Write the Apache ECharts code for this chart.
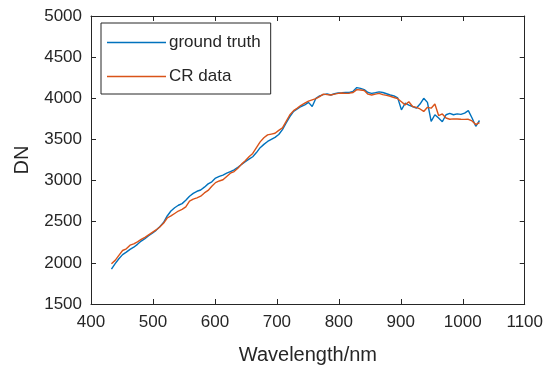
<!DOCTYPE html>
<html><head><meta charset="utf-8">
<script src="https://cdn.jsdelivr.net/npm/echarts@6/dist/echarts.min.js"></script>
<style>html,body{margin:0;padding:0;background:#fff}#c{width:546px;height:371px}</style>
</head><body><div id="c"></div>
<script>
const wavelength = [433,439,445,451,457,463,469,475,481,487,493,499,505,511,517,523,529,535,541,547,553,559,565,571,577,583,589,595,601,607,613,619,625,631,637,643,649,655,661,667,673,679,685,691,697,703,709,715,721,727,733,739,745,751,757,763,769,775,781,787,793,799,805,811,817,823,829,835,841,847,853,859,865,871,877,883,889,895,901,907,913,919,925,931,937,943,949,955,961,967,973,979,985,991,997,1003,1009,1015,1021,1027];
const groundTruth = [1925,1990,2050,2100,2130,2164,2190,2225,2265,2295,2330,2360,2395,2440,2490,2570,2630,2670,2700,2720,2760,2810,2845,2870,2885,2920,2960,2985,3030,3050,3067,3090,3110,3130,3160,3195,3230,3260,3290,3340,3400,3440,3475,3500,3525,3560,3620,3700,3776,3840,3870,3900,3920,3950,3900,4000,4030,4045,4052,4040,4055,4065,4068,4072,4070,4085,4130,4120,4105,4070,4060,4068,4078,4070,4055,4040,4030,4005,3860,3940,3918,3900,3880,3930,4000,3950,3720,3800,3760,3715,3800,3817,3800,3810,3805,3820,3850,3760,3660,3730];
const crData = [1990,2030,2090,2150,2170,2215,2230,2255,2285,2310,2340,2370,2400,2435,2480,2545,2570,2600,2630,2650,2680,2750,2775,2790,2810,2850,2880,2930,2975,2995,3010,3050,3090,3110,3150,3200,3240,3290,3330,3400,3470,3520,3555,3565,3575,3610,3640,3720,3800,3850,3880,3915,3940,3965,3980,3995,4020,4050,4045,4040,4050,4060,4065,4060,4062,4070,4105,4100,4095,4050,4040,4050,4060,4045,4035,4025,4010,3995,3958,3920,3958,3900,3890,3870,3840,3890,3880,3930,3790,3810,3760,3745,3750,3748,3745,3744,3745,3725,3680,3705];
const xTicks = [400,500,600,700,800,900,1000,1100];
const yTicks = [1500,2000,2500,3000,3500,4000,4500,5000];
const seriesNames = ['ground truth','CR data'];

const font = 'Liberation Sans, Arial, Helvetica, sans-serif';
const axisColor = '#262626';
const pair = (xs, ys) => xs.map((x, i) => [x, ys[i]]);
const chart = echarts.init(document.getElementById('c'), null, {renderer: 'canvas'});
const baseX = {type: 'value', min: xTicks[0], max: xTicks[xTicks.length-1], interval: 100,
  splitLine: {show: false}, axisLine: {lineStyle: {color: axisColor, width: 1}},
  axisTick: {inside: true, length: 5, lineStyle: {color: axisColor}}};
const baseY = {type: 'value', min: yTicks[0], max: yTicks[yTicks.length-1], interval: 500,
  splitLine: {show: false}, axisLine: {lineStyle: {color: axisColor, width: 1}},
  axisTick: {inside: true, length: 5, lineStyle: {color: axisColor}}};
const plain = v => String(v);
chart.setOption({
  animation: false,
  textStyle: {fontFamily: font},
  grid: {left: 91, right: 21, top: 16, bottom: 67, containLabel: false},
  xAxis: [
    Object.assign({}, baseX, {position: 'bottom', name: 'Wavelength/nm', nameLocation: 'middle', nameGap: 41,
      nameTextStyle: {fontSize: 20, color: axisColor, fontFamily: font},
      axisLabel: {fontSize: 17, color: axisColor, margin: 10, fontFamily: font, formatter: plain}}),
    Object.assign({}, baseX, {position: 'top', axisLabel: {show: false}})
  ],
  yAxis: [
    Object.assign({}, baseY, {position: 'left', name: 'DN', nameLocation: 'middle', nameGap: 59,
      nameTextStyle: {fontSize: 20, color: axisColor, fontFamily: font},
      axisLabel: {fontSize: 17, color: axisColor, margin: 9, fontFamily: font, formatter: plain}}),
    Object.assign({}, baseY, {position: 'right', axisLabel: {show: false}})
  ],
  legend: {
    orient: 'vertical', left: 101, top: 23,
    backgroundColor: '#fff', borderColor: axisColor, borderWidth: 1, borderRadius: 0,
    padding: [11, 10, 9, 6], itemGap: 17, itemWidth: 59, itemHeight: 14,
    icon: 'path://M0,6.5L59,6.5L59,8L0,8Z',
    textStyle: {fontSize: 17, color: axisColor, fontFamily: font, padding: [0, 0, 0, -2]},
    data: seriesNames
  },
  series: [
    {name: seriesNames[0], type: 'line', data: pair(wavelength, groundTruth), symbol: 'none',
     lineStyle: {color: '#0072BD', width: 1.4}, itemStyle: {color: '#0072BD'}, z: 2},
    {name: seriesNames[1], type: 'line', data: pair(wavelength, crData), symbol: 'none',
     lineStyle: {color: '#D95319', width: 1.4}, itemStyle: {color: '#D95319'}, z: 3}
  ]
});
</script></body></html>
